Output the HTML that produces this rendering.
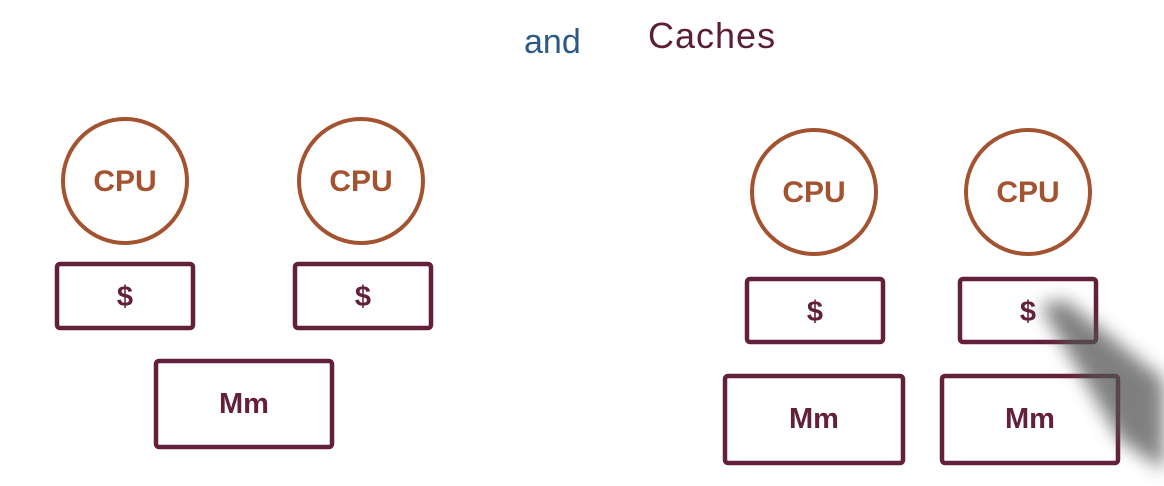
<!DOCTYPE html>
<html><head><meta charset="utf-8"><style>
html,body{margin:0;padding:0;background:#fff;width:1164px;height:486px;overflow:hidden}
svg{display:block}
.c{fill:none;stroke:#a3532f;stroke-width:4}
.ct{fill:#a3532f;font:bold 30px "Liberation Sans",sans-serif;text-anchor:middle}
.b{fill:none;stroke:#62203a;stroke-width:4.5}
.bt{fill:#62203a;font:bold 29px "Liberation Sans",sans-serif;text-anchor:middle}
</style></head><body>
<svg width="1164" height="486" viewBox="0 0 1164 486">
<defs><filter id="bl" x="-50%" y="-50%" width="200%" height="200%"><feGaussianBlur stdDeviation="9"/></filter></defs>
<text x="524" y="53" fill="#2a5a85" font-family="Liberation Sans, sans-serif" font-size="34">and</text>
<text x="648" y="48" fill="#5c1f38" font-family="Liberation Sans, sans-serif" font-size="36" letter-spacing="1">Caches</text>

<circle class="c" cx="125" cy="181" r="62"/><text class="ct" x="125" y="191">CPU</text>
<circle class="c" cx="361" cy="181" r="62"/><text class="ct" x="361" y="191">CPU</text>
<circle class="c" cx="814" cy="192" r="62"/><text class="ct" x="814" y="202">CPU</text>
<circle class="c" cx="1028" cy="192" r="62"/><text class="ct" x="1028" y="202">CPU</text>

<rect class="b" x="57" y="264" width="136" height="64" rx="3"/><text class="bt" x="125" y="306">$</text>
<rect class="b" x="295" y="264" width="136" height="64" rx="3"/><text class="bt" x="363" y="306">$</text>
<rect class="b" x="156" y="361" width="176" height="86" rx="3"/><text class="bt" x="244" y="413">Mm</text>

<rect class="b" x="747" y="279" width="136" height="63" rx="3"/><text class="bt" x="815" y="321">$</text>
<rect class="b" x="960" y="279" width="136" height="63" rx="3"/><text class="bt" x="1028" y="321">$</text>
<rect class="b" x="725" y="376" width="178" height="87" rx="3"/><text class="bt" x="814" y="428">Mm</text>
<rect class="b" x="942" y="376" width="176" height="87" rx="3"/><text class="bt" x="1030" y="428">Mm</text>

<polygon points="1040,305 1065,300 1164,380 1164,470 1120,440" fill="#555" opacity="0.75" filter="url(#bl)"/>
</svg>
</body></html>
